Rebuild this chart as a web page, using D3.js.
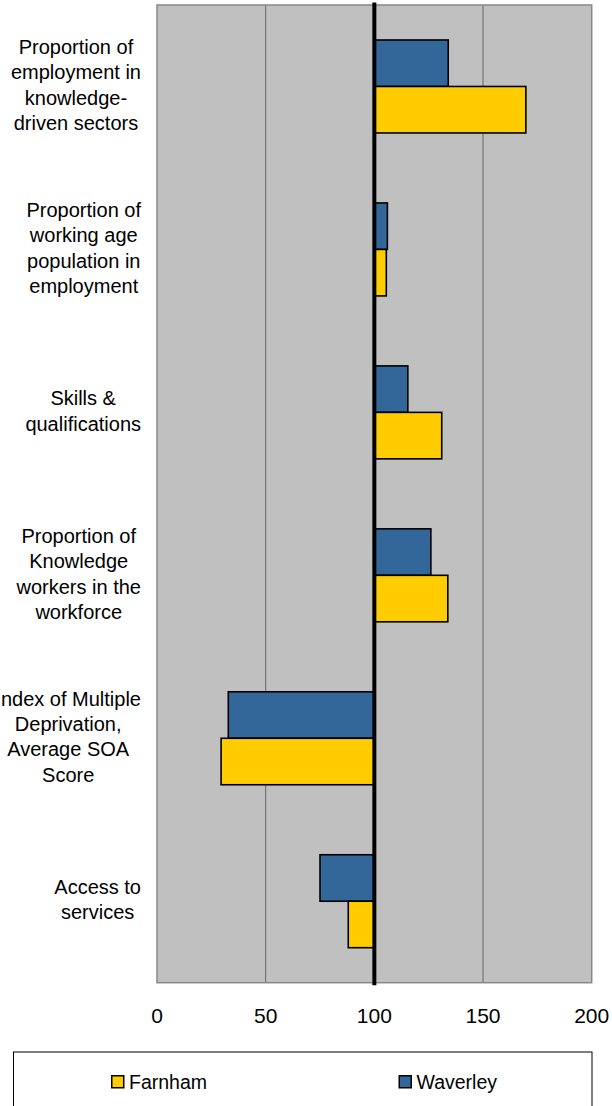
<!DOCTYPE html>
<html>
<head>
<meta charset="utf-8">
<script src="https://cdn.jsdelivr.net/npm/d3@7"></script>
<style>
  html, body { margin: 0; padding: 0; background: #fff; }
  svg { display: block; font-family: "Liberation Sans", Arial, sans-serif; }
</style>
</head>
<body>
<svg id="chart" width="612" height="1106"></svg>
<script>
// Farnham vs Waverley index chart (100 = baseline), horizontal bars.

const categories = [
  ["Proportion of", "employment in", "knowledge-", "driven sectors"],
  ["Proportion of", "working age", "population in", "employment"],
  ["Skills &", "qualifications"],
  ["Proportion of", "Knowledge", "workers in the", "workforce"],
  ["Index of Multiple", "Deprivation,", "Average SOA", "Score"],
  ["Access to", "services"],
];
const waverley = [134, 106, 115.4, 126, 32.8, 75];
const farnham = [169.7, 105.5, 131, 133.8, 29.5, 88];
const xTicks = [0, 50, 100, 150, 200];

const seriesNames = ["Waverley", "Farnham"];   // drawing order inside a band
const legendNames = ["Farnham", "Waverley"];   // legend order
const COLORS = { Farnham: "#FFCC00", Waverley: "#336699" };

const plot = { left: 157, right: 591.7, top: 5, bottom: 982.7 };
const svg = d3.select("#chart");

const x = d3.scaleLinear().domain([0, 200]).range([plot.left, plot.right]);
const y = d3.scaleBand().domain(d3.range(categories.length))
  .range([plot.top, plot.bottom]).padding(0);
const ySeries = d3.scaleBand().domain(seriesNames)
  .range([0, y.bandwidth()]).paddingInner(0).paddingOuter(0.753);

// ── plot area + gridlines ─────────────────────────────────────────────────

svg.append("rect")
  .attr("x", plot.left).attr("y", plot.top)
  .attr("width", plot.right - plot.left).attr("height", plot.bottom - plot.top)
  .attr("fill", "#C0C0C0");

svg.append("g").selectAll("line")
  .data(xTicks.filter(t => t > 0 && t < 200 && t !== 100))
  .join("line")
  .attr("x1", d => x(d)).attr("x2", d => x(d))
  .attr("y1", plot.top).attr("y2", plot.bottom)
  .attr("stroke", "#666").attr("stroke-width", 1);

svg.append("rect")
  .attr("x", plot.left).attr("y", plot.top)
  .attr("width", plot.right - plot.left).attr("height", plot.bottom - plot.top)
  .attr("fill", "none").attr("stroke", "#888").attr("stroke-width", 1.5);

// ── bars (grow from 100) ──────────────────────────────────────────────────

const rows = [];
categories.forEach((c, i) => {
  rows.push({ cat: i, series: "Waverley", value: waverley[i] });
  rows.push({ cat: i, series: "Farnham", value: farnham[i] });
});

svg.append("g").selectAll("rect")
  .data(rows)
  .join("rect")
  .attr("x", d => Math.min(x(100), x(d.value)))
  .attr("width", d => Math.abs(x(d.value) - x(100)))
  .attr("y", d => y(d.cat) + ySeries(d.series))
  .attr("height", ySeries.bandwidth())
  .attr("fill", d => COLORS[d.series])
  .attr("stroke", "#000").attr("stroke-width", 1.6);

// category axis sits at 100
svg.append("line")
  .attr("x1", x(100)).attr("x2", x(100))
  .attr("y1", plot.top - 2.5).attr("y2", plot.bottom + 2.5)
  .attr("stroke", "#000").attr("stroke-width", 4);

// ── category labels: block right-aligned, lines centred ───────────────────

const LINE_H = 25.4;
const labelRight = 141;
categories.forEach((lines, i) => {
  const g = svg.append("g");
  const texts = g.selectAll("text").data(lines).join("text")
    .attr("font-size", 20).attr("fill", "#000")
    .attr("text-anchor", "middle")
    .attr("y", (d, j) => y(i) + y.bandwidth() / 2 + (j - (lines.length - 1) / 2) * LINE_H + 5.5)
    .text(d => d);
  let maxW = 0;
  texts.each(function () { maxW = Math.max(maxW, this.getComputedTextLength()); });
  texts.attr("x", labelRight - maxW / 2);
});

// ── value axis labels ─────────────────────────────────────────────────────

svg.append("g").selectAll("text")
  .data(xTicks)
  .join("text")
  .attr("x", d => x(d)).attr("y", 1023)
  .attr("text-anchor", "middle")
  .attr("font-size", 21).attr("fill", "#000")
  .text(d => d);

// ── legend ────────────────────────────────────────────────────────────────

svg.append("rect")
  .attr("x", 13.5).attr("y", 1052)
  .attr("width", 578.5).attr("height", 80)
  .attr("fill", "#fff").attr("stroke", "#000").attr("stroke-width", 1);

const legendX = { Farnham: 111, Waverley: 398.5 };
const lg = svg.append("g").selectAll("g")
  .data(legendNames)
  .join("g")
  .attr("transform", d => `translate(${legendX[d]},1075)`);
lg.append("rect")
  .attr("x", 0.75).attr("y", 0.75).attr("width", 12).attr("height", 12)
  .attr("fill", d => COLORS[d]).attr("stroke", "#000").attr("stroke-width", 1.5);
lg.append("text")
  .attr("x", 18).attr("y", 13.5)
  .attr("font-size", 19.5).attr("fill", "#000")
  .text(d => d);
</script>
</body>
</html>
